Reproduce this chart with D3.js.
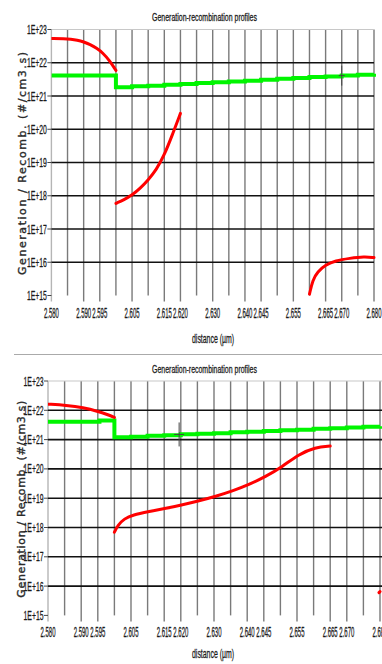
<!DOCTYPE html>
<html>
<head>
<meta charset="utf-8">
<script src="https://cdn.jsdelivr.net/npm/d3@7"></script>
<style>
  html, body { margin: 0; padding: 0; background: #fff; }
  svg { display: block; }
</style>
</head>
<body>
<svg id="chart" width="382" height="664"></svg>
<script>
// ---- data -------------------------------------------------------------
const chartTitle = "Generation-recombination profiles";
const xAxisTitle = "distance (\u00b5m)";
const yAxisTitle = "Generation / Recomb. (#/cm3.s)";

// grid every 0.005 µm from 2.580 to 2.680
const gridDistances = d3.range(0, 21).map(i => +(2.580 + i * 0.005).toFixed(3));
const labelledDistances = [2.580, 2.590, 2.595, 2.605, 2.615, 2.620, 2.630,
                           2.640, 2.645, 2.655, 2.665, 2.670, 2.680];
const rateTicks = [1e15, 1e16, 1e17, 1e18, 1e19, 1e20, 1e21, 1e22, 1e23];
const rateTickLabels = ["1E+15", "1E+16", "1E+17", "1E+18", "1E+19",
                        "1E+20", "1E+21", "1E+22", "1E+23"];

// upper profile: generation (green) and recombination (red, three regions)
const upperGeneration = [
  [2.580, 4.17e21], [2.600, 4.17e21], [2.600, 1.82e21], [2.605, 1.95e21],
  [2.610, 2.04e21], [2.615, 2.19e21], [2.620, 2.29e21], [2.625, 2.45e21],
  [2.630, 2.57e21], [2.635, 2.75e21], [2.640, 2.88e21], [2.645, 3.09e21],
  [2.650, 3.31e21], [2.655, 3.47e21], [2.660, 3.72e21], [2.665, 3.89e21],
  [2.670, 4.17e21], [2.675, 4.37e21], [2.680, 4.68e21]
];
const upperRecombA = [
  [2.580, 5.37e22], [2.584, 5.31e22], [2.586, 5.13e22], [2.588, 4.79e22],
  [2.590, 4.27e22], [2.592, 3.55e22], [2.594, 2.75e22], [2.596, 1.95e22],
  [2.598, 1.17e22], [2.600, 5.9e21]
];
const upperRecombB = [
  [2.600, 5.9e17], [2.6025, 7.6e17], [2.605, 1.05e18], [2.6075, 1.66e18],
  [2.610, 3.0e18], [2.6125, 6.0e18], [2.615, 1.66e19], [2.6175, 6.8e19],
  [2.620, 3.0e20]
];
const upperRecombC = [
  [2.660, 1.1e15], [2.661, 2.95e15], [2.6625, 5.2e15], [2.665, 8.3e15],
  [2.668, 1.12e16], [2.6725, 1.32e16], [2.677, 1.48e16], [2.680, 1.38e16]
];
const upperCursor = [2.670, 4.1e21];

// lower profile
const lowerGeneration = [
  [2.580, 4.07e21], [2.5955, 4.07e21], [2.5955, 4.5e21], [2.600, 4.5e21],
  [2.600, 1.20e21], [2.605, 1.26e21], [2.610, 1.35e21], [2.615, 1.41e21],
  [2.620, 1.51e21], [2.625, 1.58e21], [2.630, 1.66e21], [2.635, 1.78e21],
  [2.640, 1.86e21], [2.645, 1.95e21], [2.650, 2.09e21], [2.655, 2.19e21],
  [2.660, 2.34e21], [2.665, 2.45e21], [2.670, 2.57e21], [2.675, 2.75e21],
  [2.680, 2.88e21]
];
const lowerRecombA = [
  [2.580, 1.62e22], [2.5855, 1.48e22], [2.5905, 1.26e22], [2.5955, 8.9e21],
  [2.5975, 7.4e21], [2.600, 5.75e21]
];
const lowerRecombB = [
  [2.600, 6.9e17], [2.601, 1.2e18], [2.603, 2.0e18], [2.6055, 2.7e18],
  [2.6105, 3.5e18], [2.6155, 4.5e18], [2.6205, 5.9e18], [2.6255, 8.1e18],
  [2.6305, 1.15e19], [2.6355, 1.74e19], [2.6405, 2.9e19], [2.6455, 5.4e19],
  [2.6505, 1.17e20], [2.6555, 3.16e20], [2.6605, 5.5e20], [2.665, 6.0e20]
];
const lowerRecombC = [[2.6797, 6.0e15], [2.680, 6.5e15]];
const lowerCursor = [2.6195, 1.5e21];

// ---- drawing ----------------------------------------------------------
const svg = d3.select("#chart");
const NARROW = "'Liberation Sans', Arial, sans-serif";

const panels = [
  { left: 51.4, right: 374, top: 29.5, bottom: 295.5, overhang: 0,
    titleY: 20.5, tickY: 318, xTitleY: 343, yTitleX: 25.5, yTitleLen: 223,
    generation: upperGeneration, recomb: [upperRecombA, upperRecombB, upperRecombC],
    cursor: upperCursor, cursorH: 10, cursorW: 3 },
  { left: 48, right: 380, top: 381, bottom: 615.4, overhang: 2,
    titleY: 372.5, tickY: 637, xTitleY: 658, yTitleX: 25, yTitleLen: 197,
    generation: lowerGeneration, recomb: [lowerRecombA, lowerRecombB, lowerRecombC],
    cursor: lowerCursor, cursorH: 12, cursorW: 5 }
];

// condensed label: text is drawn at its natural width, then squeezed
// horizontally to the wanted width around its anchor point
function narrowLabel(parent, str, px, py, size, width, anchor, dy) {
  const t = parent.append("text")
    .attr("text-anchor", anchor)
    .attr("dy", dy || 0)
    .attr("font-family", NARROW).attr("font-size", size)
    .attr("fill", "#1a1a1a")
    .attr("stroke", "#1a1a1a").attr("stroke-width", 0.3)
    .text(str);
  const natural = t.node().getComputedTextLength() || width;
  t.attr("transform", `translate(${px},${py}) scale(${width / natural},1)`);
  return t;
}

panels.forEach((p, i) => {
  const g = svg.append("g");
  const x = d3.scaleLinear().domain([2.580, 2.680]).range([p.left, p.right]);
  const y = d3.scaleLog().domain([1e15, 1e23]).range([p.bottom, p.top]);

  // title
  narrowLabel(g, chartTitle, 204.5, p.titleY, 11.5, 105, "middle");

  // vertical grid
  g.append("g").selectAll("line").data(gridDistances).join("line")
    .attr("x1", d => x(d)).attr("x2", d => x(d))
    .attr("y1", p.top)
    .attr("y2", d => labelledDistances.some(t => Math.abs(t - d) < 1e-6) ? p.bottom + 6 : p.bottom)
    .attr("stroke", (d, k) => k === 0 ? "#b5b5b5" : "#7a7a7a")
    .attr("stroke-width", 1.4);

  // horizontal grid (decades)
  g.append("g").selectAll("line").data(rateTicks.slice(1)).join("line")
    .attr("x1", p.left).attr("x2", p.right + p.overhang)
    .attr("y1", d => y(d)).attr("y2", d => y(d))
    .attr("stroke", d => d === 1e23 ? "#c8c8c8" : "#111")
    .attr("stroke-width", d => d === 1e23 ? 1.2 : 1.6);

  // y tick marks and labels
  g.append("g").selectAll("line").data(rateTicks).join("line")
    .attr("x1", p.left - 4).attr("x2", p.left)
    .attr("y1", d => y(d)).attr("y2", d => y(d))
    .attr("stroke", "#444").attr("stroke-width", 1);
  const yLab = g.append("g");
  rateTicks.forEach((d, k) =>
    narrowLabel(yLab, rateTickLabels[k], p.left - 4.5, y(d), 12.5, 20, "end", "0.36em"));

  // x tick labels
  const xLab = g.append("g");
  labelledDistances.forEach(d =>
    narrowLabel(xLab, d3.format(".3f")(d), x(d), p.tickY, 14.5, 15, "middle"));

  // axis titles
  narrowLabel(g, xAxisTitle, 213, p.xTitleY, 13, 42, "middle");
  const ym = (p.top + p.bottom) / 2 + 1;
  g.append("text")
    .attr("transform", `translate(${p.yTitleX},${ym}) rotate(-90)`)
    .attr("text-anchor", "middle")
    .attr("font-family", "'DejaVu Sans', Verdana, sans-serif")
    .attr("font-size", 11)
    .attr("fill", "#2a2a2a")
    .attr("stroke", "#2a2a2a").attr("stroke-width", 0.35)
    .attr("textLength", p.yTitleLen).attr("lengthAdjust", "spacing")
    .text(yAxisTitle);

  // clip for curves
  const clipId = "plot-clip-" + i;
  svg.append("clipPath").attr("id", clipId)
    .append("rect")
    .attr("x", p.left).attr("y", p.top - 2)
    .attr("width", p.right - p.left + 3).attr("height", p.bottom - p.top + 4);
  const plot = g.append("g").attr("clip-path", `url(#${clipId})`);

  // generation (stepped green)
  const stepLine = d3.line().x(d => x(d[0])).y(d => y(d[1])).curve(d3.curveStepAfter);
  plot.append("path")
    .attr("d", stepLine(p.generation))
    .attr("fill", "none").attr("stroke", "#00f500")
    .attr("stroke-width", 4);

  // recombination (red)
  const smoothLine = d3.line().x(d => x(d[0])).y(d => y(d[1])).curve(d3.curveBasis);
  plot.selectAll("path.rec").data(p.recomb).join("path")
    .attr("class", "rec")
    .attr("d", d => smoothLine(d))
    .attr("fill", "none").attr("stroke", "#ff0000")
    .attr("stroke-width", 3).attr("stroke-linecap", "round");

  // cursor cross
  const [cxv, cyv] = p.cursor;
  const cxp = x(cxv), cyp = y(cyv);
  g.append("line")
    .attr("x1", cxp).attr("x2", cxp)
    .attr("y1", cyp - p.cursorH).attr("y2", cyp + p.cursorH)
    .attr("stroke", "#444").attr("stroke-width", 1);
  g.append("line")
    .attr("x1", cxp - p.cursorW).attr("x2", cxp + p.cursorW)
    .attr("y1", cyp).attr("y2", cyp)
    .attr("stroke", "#444").attr("stroke-width", 1);
});

// separator between the two profiles
svg.append("line")
  .attr("x1", 14).attr("x2", 382)
  .attr("y1", 354.5).attr("y2", 354.5)
  .attr("stroke", "#aaa").attr("stroke-width", 1);
</script>
</body>
</html>
